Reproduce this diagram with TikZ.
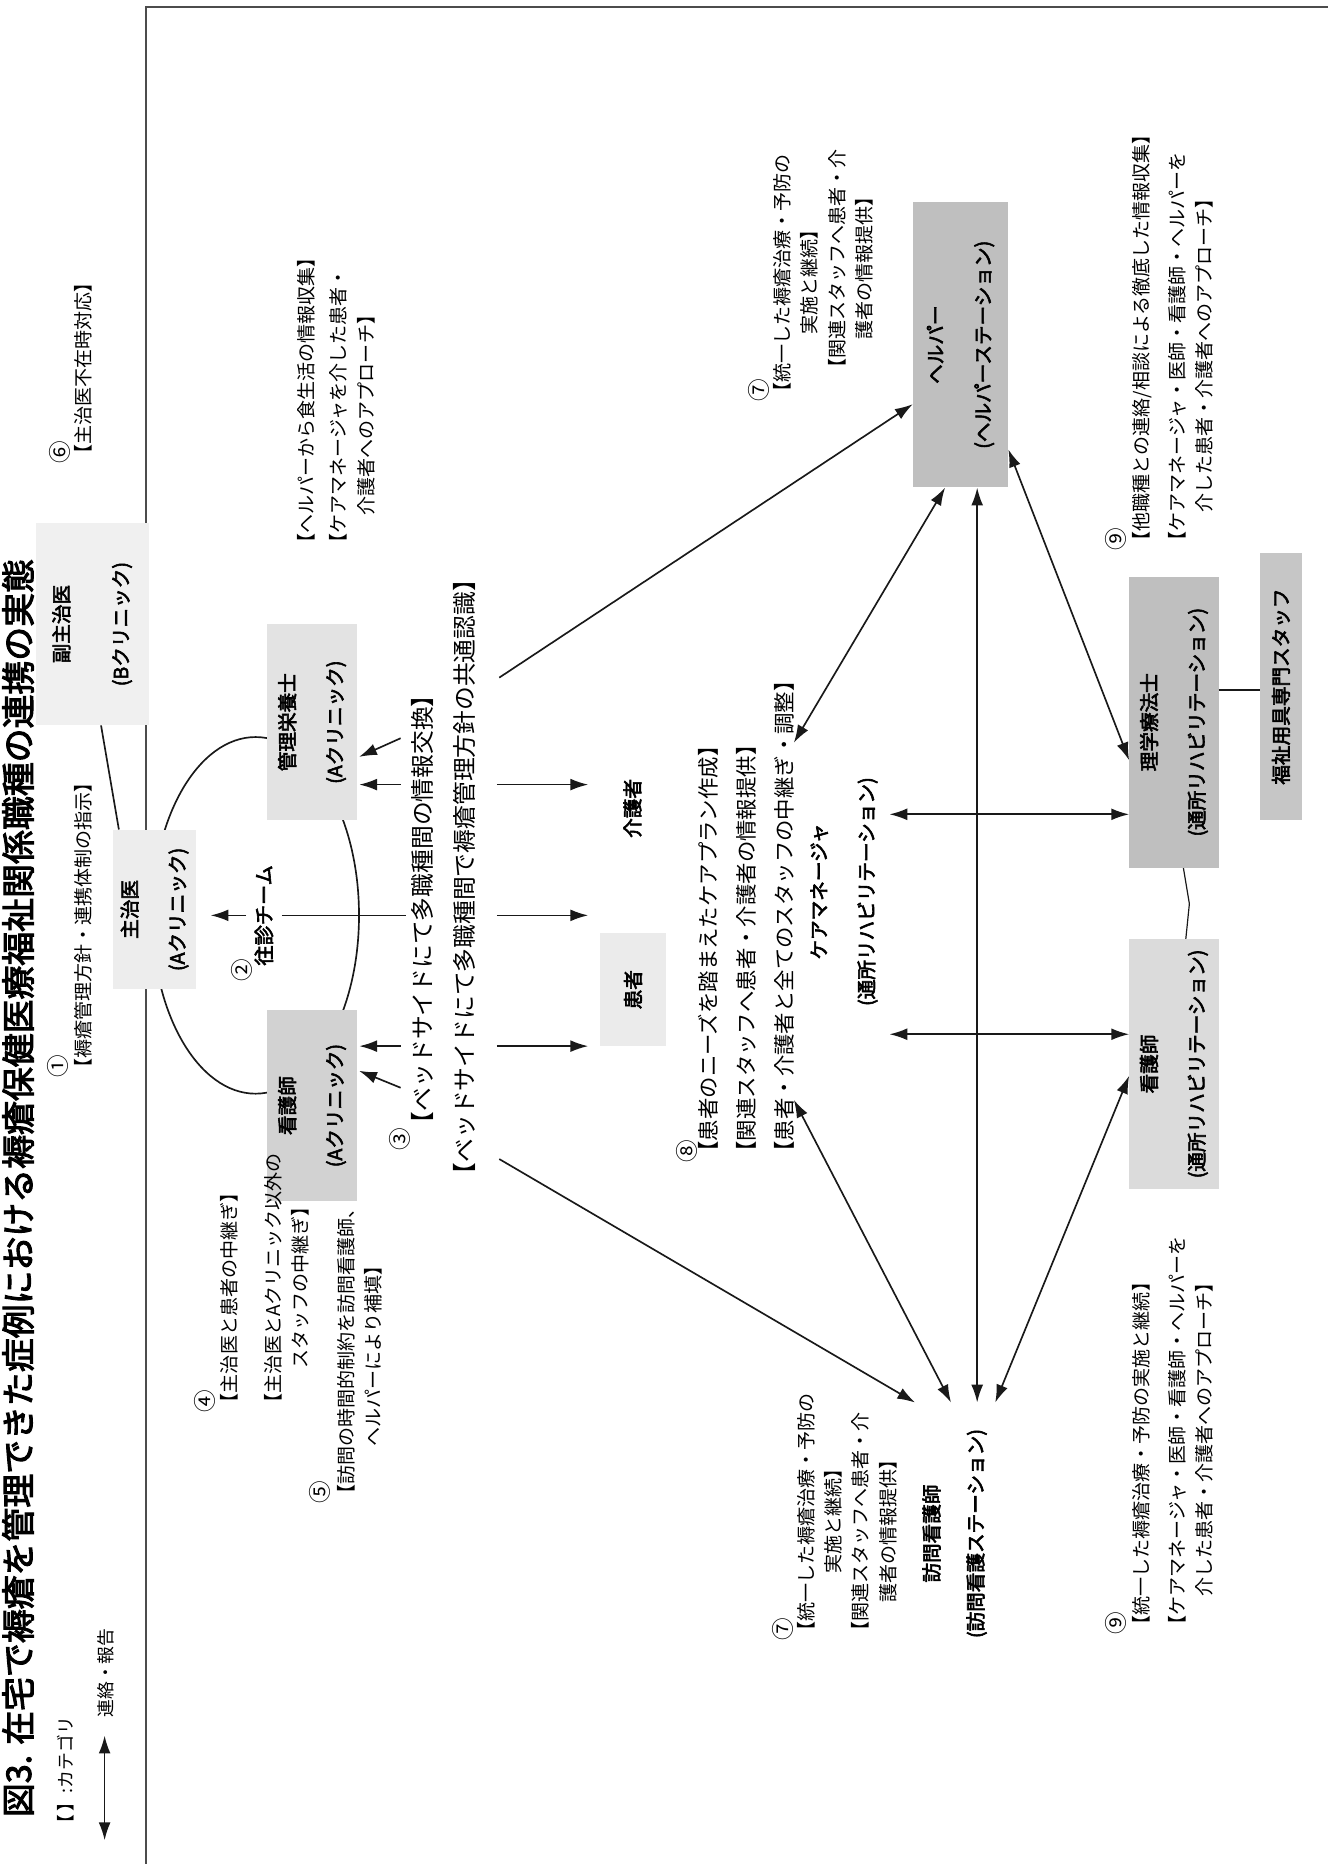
\documentclass[tikz,border=0pt]{standalone}
\usepackage{fontspec}
\setmainfont{Noto Sans CJK JP}[AutoFakeBold=3]
\usetikzlibrary{arrows.meta}
\newcommand\cnum[1]{{\fontsize{19}{19}\selectfont #1}}
\tikzset{
 lbl/.style={rotate=90, inner sep=0pt, anchor=base west, font=\fontsize{16}{23}\selectfont},
 lblbig/.style={lbl, font=\fontsize{20}{38}\selectfont},
 lbleight/.style={lbl, font=\fontsize{18}{32}\selectfont},
 boxtxt/.style={rotate=90, inner sep=0pt, align=center, font=\bfseries\fontsize{16.5}{40}\selectfont},
 gbox/.style={rectangle, draw=none, inner sep=0pt},
 ghost/.style={rectangle, draw=none, inner sep=0pt},
 ln/.style={line width=1.4pt, draw=black!90},
 arr/.style={ln, -{Latex[length=15pt,width=10pt]}},
 dbl/.style={ln, {Latex[length=15pt,width=10pt]}-{Latex[length=15pt,width=10pt]}},
}
\begin{document}
\begin{tikzpicture}[x=1pt,y=-1pt]
\useasboundingbox (0,0) rectangle (1117,1568);
\fill[white] (0,0) rectangle (1117,1568);
% frame
\draw[line width=1.6pt, black!70] (123,1600) -- (123,6) -- (1140,6);
% title
\node[rotate=90, inner sep=0pt, anchor=base east, font=\bfseries\fontsize{28.5}{30}\selectfont] (title) at (26,470) {図3. 在宅で褥瘡を管理できた症例における褥瘡保健医療福祉関係職種の連携の実態};
% legend
\node[lbl, font=\fontsize{15}{20}\selectfont] (legcat) at (61,1542) {【 】:カテゴリ};
\coordinate (la1) at (88,1460);
\coordinate (la2) at (88,1548);
\draw[dbl] (la1) -- (la2);
\node[lbl, font=\fontsize{15}{20}\selectfont] (legarr) at (95,1445) {連絡・報告};
% oval
\draw[ln] (215,770) ellipse [x radius=87pt, y radius=150pt];
% boxes
\node[gbox, fill=gray!12, minimum width=95pt, minimum height=170pt] (fuku) at (77.5,525) {};
\node[gbox, fill=gray!14, minimum width=70pt, minimum height=134pt] (shui) at (130,765) {};
\node[gbox, fill=gray!22, minimum width=75pt, minimum height=165pt] (eiyo) at (262.5,607.5) {};
\node[gbox, fill=gray!35, minimum width=75pt, minimum height=160pt] (kango) at (262.5,930) {};
\node[gbox, fill=gray!16, minimum width=55pt, minimum height=95pt] (kanja) at (532.5,832.5) {};
\node[gbox, fill=gray!50, minimum width=80pt, minimum height=240pt] (helper) at (808,290) {};
\node[gbox, fill=gray!50, minimum width=75pt, minimum height=245pt] (PT) at (987.5,607.5) {};
\node[gbox, fill=gray!45, minimum width=35pt, minimum height=225pt] (fukushi) at (1077.5,577.5) {};
\node[gbox, fill=gray!28, minimum width=75pt, minimum height=210pt] (ns2) at (987.5,895) {};
\node[ghost, minimum width=80pt, minimum height=300pt] (kea) at (708,775) {};
\node[ghost, minimum width=70pt, minimum height=180pt] (houmon) at (805,1260) {};
% box texts
\node[boxtxt, font=\bfseries\fontsize{16.5}{50}\selectfont] (fukut) at (fuku) {副主治医\\(Bクリニック)};
\node[boxtxt] (shuit) at (shui) {主治医\\(Aクリニック)};
\node[boxtxt] (eiyot) at (eiyo) {管理栄養士\\(Aクリニック)};
\node[boxtxt] (kangot) at (kango) {看護師\\(Aクリニック)};
\node[boxtxt] (kanjat) at (kanja) {患者};
\node[boxtxt] (kaigo) at (532,680) {介護者};
\node[boxtxt] (helpert) at (helper) {ヘルパー\\(ヘルパーステーション)};
\node[boxtxt] (PTt) at (PT) {理学療法士\\(通所リハビリテーション)};
\node[boxtxt] (fukushit) at (fukushi) {福祉用具専門スタッフ};
\node[boxtxt] (ns2t) at (ns2) {看護師\\(通所リハビリテーション)};
\node[boxtxt] (keat) at (710,750) {ケアマネージャ\\(通所リハビリテーション)};
\node[boxtxt, font=\bfseries\fontsize{16.5}{37}\selectfont] (houmont) at (803,1290) {訪問看護師\\(訪問看護ステーション)};
% labels
\node[lbl] (g6) at (58,390) {\begin{tabular}[t]{@{}l@{}}\cnum{⑥}\\[-5pt]【主治医不在時対応】\end{tabular}};
\node[lbl] (g1) at (56,907) {\begin{tabular}[t]{@{}l@{}}\cnum{①}\\[-3pt]【褥瘡管理方針・連携体制の指示】\end{tabular}};
\node[lbl] (g2) at (211,826) {\cnum{②}};
\node[rotate=90, inner sep=1pt, font=\bfseries\fontsize{17}{20}\selectfont] (osin) at (222,770) {往診チーム};
\node[lbl] (g3) at (344,968) {\cnum{③}};
\node[lblbig] (b1) at (363,955) {【ベッドサイドにて多職種間の情報交換】};
\node[lblbig] (b2) at (398,998) {【ベッドサイドにて多職種間で褥瘡管理方針の共通認識】};
\node[lbl] (g4) at (180,1188) {\begin{tabular}[t]{@{}l@{}}\cnum{④}\\[-4pt]【主治医と患者の中継ぎ】\\[14pt]\begin{tabular}[t]{@{}c@{}}【主治医とAクリニック以外の\\スタッフの中継ぎ】\end{tabular}\end{tabular}};
\node[lbl] (g5) at (276,1265) {\begin{tabular}[t]{@{}l@{}}\cnum{⑤}\\[-2pt]\begin{tabular}[t]{@{}c@{}}【訪問の時間的制約を訪問看護師、\\ヘルパーにより補填】\end{tabular}\end{tabular}};
\node[lbl] (info) at (264,465) {\begin{tabular}[t]{@{}l@{}}【ヘルパーから食生活の情報収集】\\[4pt]\begin{tabular}[t]{@{}c@{}}【ケアマネージャを介した患者・\\介護者へのアプローチ】\end{tabular}\end{tabular}};
\node[lbleight] (g8) at (585,978) {\begin{tabular}[t]{@{}l@{}}\cnum{⑧}\\[-14pt]【患者のニーズを踏まえたケアプラン作成】\\【関連スタッフへ患者・介護者の情報提供】\\【患者・介護者と全てのスタッフの中継ぎ・調整】\end{tabular}};
\node[lbl] (g7a) at (646,338) {\begin{tabular}[t]{@{}l@{}}\cnum{⑦}\\[-5pt]\begin{tabular}[t]{@{}c@{}}【統一した褥瘡治療・予防の\\実施と継続】\end{tabular}\\[9pt]\hspace{20pt}\begin{tabular}[t]{@{}c@{}}【関連スタッフへ患者・介\\護者の情報提供】\end{tabular}\end{tabular}};
\node[lbl] (g7b) at (666,1380) {\begin{tabular}[t]{@{}l@{}}\cnum{⑦}\\[-5pt]\begin{tabular}[t]{@{}c@{}}【統一した褥瘡治療・予防の\\実施と継続】\end{tabular}\\[9pt]\begin{tabular}[t]{@{}c@{}}【関連スタッフへ患者・介\\護者の情報提供】\end{tabular}\end{tabular}};
\node[lbl] (g9a) at (946,463) {\begin{tabular}[t]{@{}l@{}}\cnum{⑨}\\[-3pt]【他職種との連絡/相談による徹底した情報収集】\\[7pt]\begin{tabular}[t]{@{}c@{}}【ケアマネージャ・医師・看護師・ヘルパーを\\介した患者・介護者へのアプローチ】\end{tabular}\end{tabular}};
\node[lbl] (g9b) at (946,1375) {\begin{tabular}[t]{@{}l@{}}\cnum{⑨}\\[-3pt]【統一した褥瘡治療・予防の実施と継続】\\[7pt]\begin{tabular}[t]{@{}c@{}}【ケアマネージャ・医師・看護師・ヘルパーを\\介した患者・介護者へのアプローチ】\end{tabular}\end{tabular}};
% connectors
\draw[ln] ([xshift=7.5pt]fuku.south) -- ([xshift=-30pt]shui.north);
\draw[arr, shorten <=6pt, shorten >=12pt] (osin.north) -- (osin.north -| shui.east);
\draw[ln, shorten <=6pt, shorten >=4pt] (osin.south) -- (osin.south -| b1.north);
\coordinate (s1) at (337,660);
\coordinate (s2) at (337,621);
\coordinate (s3) at (337,880);
\coordinate (s4) at (337,915);
\draw[arr, shorten >=2pt] (s1) -- (s1 -| eiyo.east);
\draw[arr, shorten >=2pt] (s2) -- ([yshift=-30pt]eiyo.east);
\draw[arr, shorten >=2pt] (s3) -- (s3 -| kango.east);
\draw[arr, shorten >=2pt] (s4) -- ([yshift=30pt]kango.east);
\coordinate (r1) at (418,660);
\coordinate (r2) at (418,770);
\coordinate (r3) at (418,880);
\coordinate (r4) at (420,570);
\coordinate (r5) at (420,975);
\draw[arr, shorten >=10pt] (r1) -- (r1 -| kanja.west);
\draw[arr, shorten >=10pt] (r2) -- (r2 -| kanja.west);
\draw[arr, shorten >=10pt] (r3) -- (r3 -| kanja.west);
\draw[arr] (r4) -- ([yshift=-50pt]helper.west);
\draw[arr] (r5) -- ([yshift=-10pt]houmon.north west);
\draw[dbl] (kea.north west) -- ([xshift=-13pt]helper.south);
\draw[dbl] (kea.south west) -- ([xshift=-5pt,yshift=-10pt]houmon.north);
\draw[dbl] ([xshift=14pt]helper.south) -- ([xshift=14pt,yshift=-10pt]helper.south |- houmon.north);
\draw[dbl] ([yshift=-88pt]helper.east) -- ([yshift=-32pt]PT.west);
\draw[dbl] ([yshift=90pt]kea.east) -- ([yshift=90pt]kea.east -| PT.west);
\draw[dbl] ([yshift=-95pt]kea.east) -- ([yshift=-95pt]kea.east -| ns2.west);
\draw[dbl] ([yshift=-10pt]ns2.west) -- ([xshift=-3pt,yshift=-10pt]houmon.north east);
\draw[ln, line width=1pt] ([xshift=8pt]PT.south) -- ++(5,30) -- ([xshift=10pt]ns2.north);
\draw[ln] ([yshift=27pt]PT.east) -- ([yshift=27pt]PT.east -| fukushi.west);
\end{tikzpicture}
\end{document}
